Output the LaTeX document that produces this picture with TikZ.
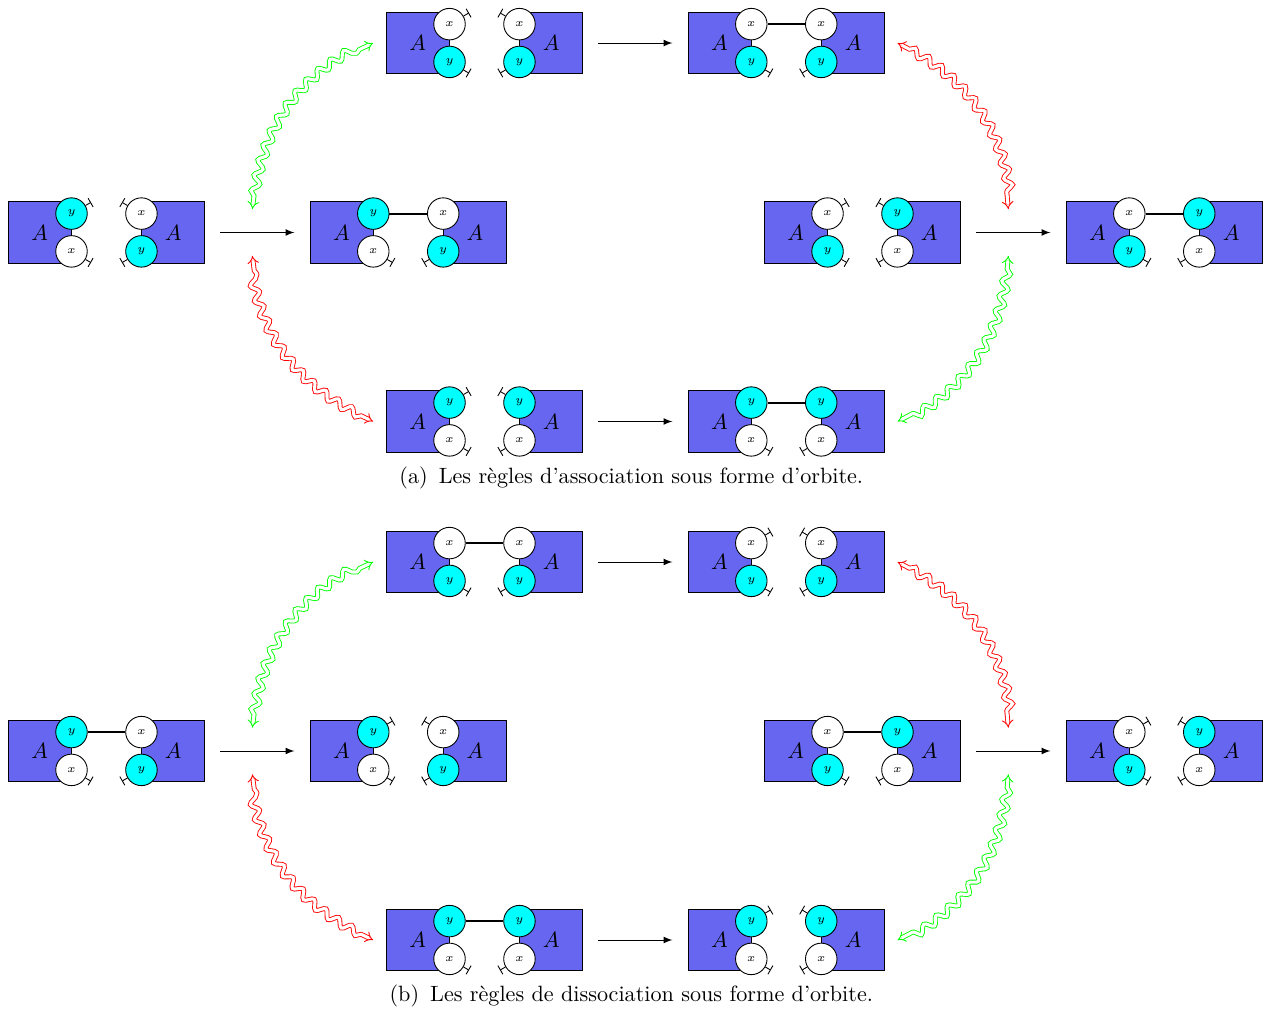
\documentclass[tikz,border=0pt]{standalone}
\usepackage{xcolor}
\usepackage{tikz}
\usetikzlibrary{arrows.meta,decorations.pathmorphing}
\definecolor{boiteColor}{RGB}{102, 102, 240}
\definecolor{siteCyan}{RGB}{0, 255, 255}
\definecolor{ondeVert}{RGB}{0, 255, 0}
\definecolor{ondeRouge}{RGB}{255, 0, 0}

% #1 nom, #2 position, #3-#6 sites (gauche haut, gauche bas, droite haut, droite bas), #7 lien (1 = lie)
\newcommand{\paire}[7]{%
  \begin{scope}[shift={#2}]
    \node[boite] (#1-g) at (-1.06,0) {$A$};
    \node[boite] (#1-d) at (1.06,0) {$A$};
    \node[site, site #3] (#1-gh) at (-0.555,0.3) {$#3$};
    \node[site, site #4] (#1-gb) at (-0.555,-0.3) {$#4$};
    \node[site, site #5] (#1-dh) at (0.555,0.3) {$#5$};
    \node[site, site #6] (#1-db) at (0.555,-0.3) {$#6$};
    \draw[libre] (#1-gb.-30) -- ++(-30:0.1);
    \draw[libre] (#1-db.-150) -- ++(-150:0.1);
    \ifnum#7=1
      \draw[lien] (#1-gh) -- (#1-dh);
    \else
      \draw[libre] (#1-gh.30) -- ++(30:0.1);
      \draw[libre] (#1-dh.150) -- ++(150:0.1);
    \fi
  \end{scope}}

\begin{document}
\begin{tikzpicture}[
    boite/.style={draw, fill=boiteColor, minimum width=1cm, minimum height=0.97cm, inner sep=0pt},
    site/.style={circle, draw, minimum size=0.5cm, inner sep=0pt, font=\tiny},
    site x/.style={fill=white},
    site y/.style={fill=siteCyan},
    libre/.style={-{Bar[width=4.5pt]}},
    lien/.style={line width=0.9pt},
    fleche/.style={-latex, shorten <=0.24cm, shorten >=0.24cm},
    onde/.style={double, double distance=1.4pt, {Implies[scale=1.8]}-{Implies[scale=1.8]}, decorate,
      decoration={snake, amplitude=1.7pt, segment length=7pt, pre length=6pt, post length=6pt}}
]
    \useasboundingbox (0,0) rectangle (20.063,-16.032);

    % (a) association
    \paire{h1a}{(7.69,-0.683)}{x}{y}{x}{y}{0}
    \paire{h2a}{(12.48,-0.683)}{x}{y}{x}{y}{1}
    \paire{m1a}{(1.69,-3.69)}{y}{x}{x}{y}{0}
    \paire{m2a}{(6.48,-3.69)}{y}{x}{x}{y}{1}
    \paire{m3a}{(13.69,-3.69)}{x}{y}{y}{x}{0}
    \paire{m4a}{(18.48,-3.69)}{x}{y}{y}{x}{1}
    \paire{b1a}{(7.69,-6.69)}{y}{x}{y}{x}{0}
    \paire{b2a}{(12.48,-6.69)}{y}{x}{y}{x}{1}

    \draw[fleche] (h1a-d.east) -- (h2a-g.west);
    \draw[fleche] (m1a-d.east) -- node[coordinate] (ga) {} (m2a-g.west);
    \draw[fleche] (m3a-d.east) -- node[coordinate] (da) {} (m4a-g.west);
    \draw[fleche] (b1a-d.east) -- (b2a-g.west);

    \draw[onde, ondeVert] ([xshift=-0.08cm, yshift=0.37cm]ga) to[bend left=30] ([xshift=-0.2cm]h1a-g.west);
    \draw[onde, ondeRouge] ([xshift=-0.2cm]b1a-g.west) to[bend left=30] ([xshift=-0.08cm, yshift=-0.37cm]ga);
    \draw[onde, ondeRouge] ([xshift=0.2cm]h2a-d.east) to[bend left=30] ([xshift=-0.08cm, yshift=0.37cm]da);
    \draw[onde, ondeVert] ([xshift=-0.08cm, yshift=-0.37cm]da) to[bend left=30] ([xshift=0.2cm]b2a-d.east);

    \node (capa) at (10.02,-7.59) {(a)\hspace{0.5em}Les règles d'association sous forme d'orbite.};

    % (b) dissociation
    \paire{h1b}{(7.69,-8.92)}{x}{y}{x}{y}{1}
    \paire{h2b}{(12.48,-8.92)}{x}{y}{x}{y}{0}
    \paire{m1b}{(1.69,-11.92)}{y}{x}{x}{y}{1}
    \paire{m2b}{(6.48,-11.92)}{y}{x}{x}{y}{0}
    \paire{m3b}{(13.69,-11.92)}{x}{y}{y}{x}{1}
    \paire{m4b}{(18.48,-11.92)}{x}{y}{y}{x}{0}
    \paire{b1b}{(7.69,-14.92)}{y}{x}{y}{x}{1}
    \paire{b2b}{(12.48,-14.92)}{y}{x}{y}{x}{0}

    \draw[fleche] (h1b-d.east) -- (h2b-g.west);
    \draw[fleche] (m1b-d.east) -- node[coordinate] (gb) {} (m2b-g.west);
    \draw[fleche] (m3b-d.east) -- node[coordinate] (db) {} (m4b-g.west);
    \draw[fleche] (b1b-d.east) -- (b2b-g.west);

    \draw[onde, ondeVert] ([xshift=-0.08cm, yshift=0.37cm]gb) to[bend left=30] ([xshift=-0.2cm]h1b-g.west);
    \draw[onde, ondeRouge] ([xshift=-0.2cm]b1b-g.west) to[bend left=30] ([xshift=-0.08cm, yshift=-0.37cm]gb);
    \draw[onde, ondeRouge] ([xshift=0.2cm]h2b-d.east) to[bend left=30] ([xshift=-0.08cm, yshift=0.37cm]db);
    \draw[onde, ondeVert] ([xshift=-0.08cm, yshift=-0.37cm]db) to[bend left=30] ([xshift=0.2cm]b2b-d.east);

    \node (capb) at (10.02,-15.81) {(b)\hspace{0.5em}Les règles de dissociation sous forme d'orbite.};
\end{tikzpicture}
\end{document}
